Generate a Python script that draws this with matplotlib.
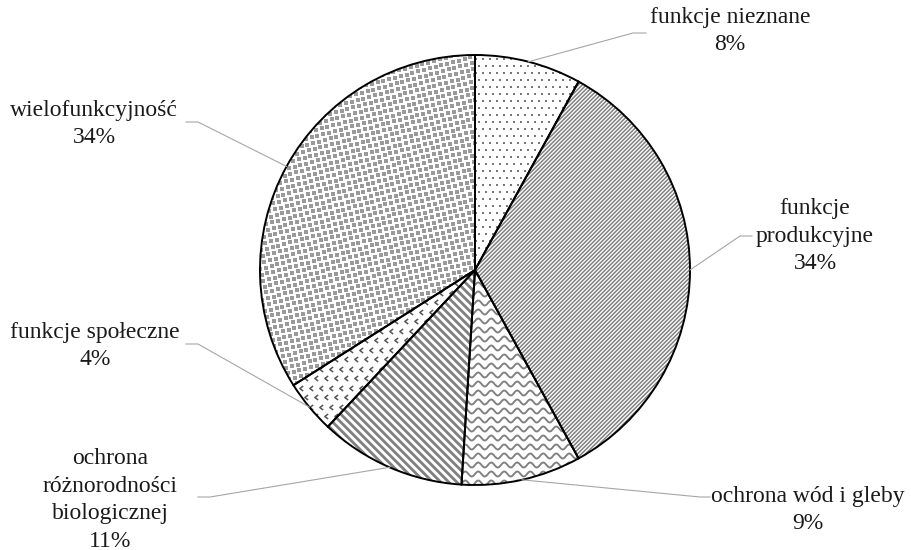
import numpy as np
import matplotlib.pyplot as plt
from matplotlib.patches import Wedge
from matplotlib.collections import LineCollection
from matplotlib.path import Path

# dane
kategorie = ["funkcje nieznane", "funkcje\nprodukcyjne", "ochrona wód i gleby",
             "ochrona\nróżnorodności\nbiologicznej", "funkcje społeczne", "wielofunkcyjność"]
udzialy = [8, 34, 9, 11, 4, 34]
procenty = ["8%", "34%", "9%", "11%", "4%", "34%"]

# uklad (piksele obrazu)
W, H = 912, 550
CX, CY, R = 475, 270, 215
etykiety_xy = [(730, 31), (815, 236), (808, 510), (110, 500), (95, 346), (94, 124)]
lacznik_xy = [(646, 33), (752, 236), (710, 497), (198, 497), (186, 344), (186, 122)]
lacznik_poziom = [-13, -12, -10, 12, 12, 12]

px = 1.0 / R


def d(x, y):
    return ((x - CX) / R, (CY - y) / R)


plt.rcParams['font.family'] = ['Liberation Serif', 'DejaVu Serif']

fig = plt.figure(figsize=(9.12, 5.5), dpi=100)
ax = fig.add_axes([0, 0, 1, 1])

wedges, _ = ax.pie(udzialy, startangle=90, counterclock=False, radius=1,
                   colors=['white'] * len(udzialy),
                   wedgeprops=dict(linewidth=0))
ax.set_xlim(-CX / R, (W - CX) / R)
ax.set_ylim(-(H - CY) / R, CY / R)
ax.set_aspect('equal')
ax.axis('off')

szary = '#808080'


def paski(w, kierunek, odstep, grub):
    # linie ukosne przyciete do wycinka
    n = np.array([np.cos(np.radians(kierunek + 90)), np.sin(np.radians(kierunek + 90))])
    t = np.array([np.cos(np.radians(kierunek)), np.sin(np.radians(kierunek))])
    segs = []
    for o in np.arange(-1.6, 1.6, odstep * px):
        p = o * n
        segs.append([p - 2 * t, p + 2 * t])
    lc = LineCollection(segs, colors=szary, linewidths=grub * 0.72, zorder=2)
    ax.add_collection(lc)
    lc.set_clip_path(w)


def fale(w, odstep, okres, amp, grub):
    xs = np.linspace(-1.2, 1.2, 800)
    segs = []
    for y0 in np.arange(-1.2, 1.2, odstep * px):
        ys = y0 + amp * px * np.sin(2 * np.pi * xs / (okres * px))
        segs.append(np.column_stack([xs, ys]))
    lc = LineCollection(segs, colors=szary, linewidths=grub * 0.72, zorder=2)
    ax.add_collection(lc)
    lc.set_clip_path(w)


def kropki(w, dx, dy, rozmiar, kolor, obrot=0, marker='s', przesun=True, mew=0):
    xs, ys = [], []
    for j, y in enumerate(np.arange(-1.3, 1.3, dy * px)):
        off = (dx * px / 2) if (przesun and j % 2) else 0
        for x in np.arange(-1.3, 1.3, dx * px):
            xs.append(x + off)
            ys.append(y)
    xs, ys = np.array(xs), np.array(ys)
    a = np.radians(obrot)
    xr = xs * np.cos(a) - ys * np.sin(a)
    yr = xs * np.sin(a) + ys * np.cos(a)
    if marker == 's':
        ln, = ax.plot(xr, yr, 's', ms=rozmiar * 0.72, color=kolor, mew=0, zorder=2)
    else:
        ln, = ax.plot(xr, yr, linestyle='none', marker=marker, ms=rozmiar * 0.72,
                      mfc='none', mec=kolor, mew=mew, zorder=2)
    ln.set_clip_path(w)


szewron = Path([(0.6, 0.9), (-0.6, 0.0), (0.6, -0.9)],
               [Path.MOVETO, Path.LINETO, Path.LINETO])

kropki(wedges[0], 7, 7, 2.2, '#777777')
paski(wedges[1], 45, 2.83, 1.5)
fale(wedges[2], 9, 13, 2.5, 1.9)
paski(wedges[3], -45, 5.66, 2.8)
kropki(wedges[4], 10, 9.5, 5, '#555555', marker=szewron, mew=1.1)
kropki(wedges[5], 6, 6, 3.2, '#9a9a9a', obrot=15, przesun=False)

for w in wedges:
    ax.add_patch(Wedge(w.center, w.r, w.theta1, w.theta2, fill=False,
                       ec='black', lw=1.4, zorder=3))

for i, w in enumerate(wedges):
    tx, ty = d(*etykiety_xy[i])
    ax.text(tx, ty, kategorie[i] + "\n" + procenty[i], ha='center', va='center',
            fontsize=17, color='#1a1a1a', linespacing=1.4)
    ang = np.radians((w.theta1 + w.theta2) / 2)
    ex, ey = np.cos(ang), np.sin(ang)
    lx, ly = d(*lacznik_xy[i])
    kx = lx + lacznik_poziom[i] * px
    ax.plot([lx, kx, ex], [ly, ly, ey], color='#a6a6a6', lw=0.8, zorder=4)

fig.savefig('out.png', dpi=100, facecolor='white')
